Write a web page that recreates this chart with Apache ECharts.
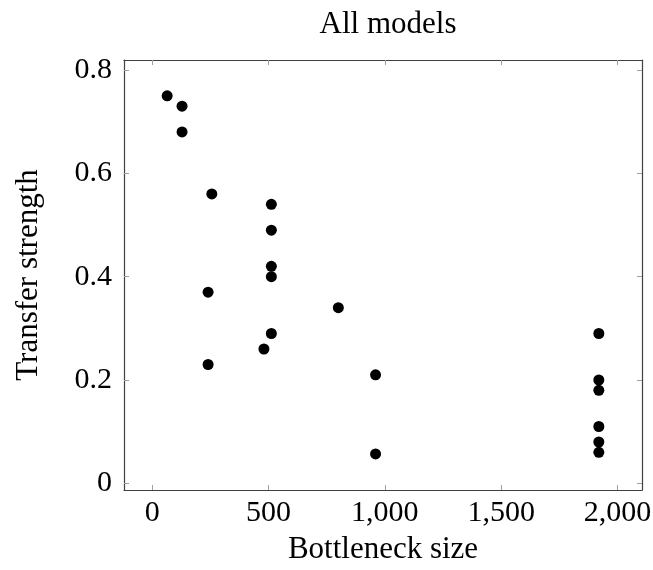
<!DOCTYPE html>
<html>
<head>
<meta charset="utf-8">
<script src="https://cdn.jsdelivr.net/npm/echarts@6/dist/echarts.min.js"></script>
<style>
html,body{margin:0;padding:0;background:#fff;}
#chart{width:653px;height:570px;}
</style>
</head>
<body>
<div id="chart"></div>
<script>
// Data
var bottleneckSize = [64, 128, 128, 256, 512, 512, 240, 512, 512, 800, 512, 480, 240, 960, 960, 1920, 1920, 1920, 1920, 1920, 1920];
var transferStrength = [0.75, 0.73, 0.68, 0.56, 0.54, 0.49, 0.37, 0.42, 0.40, 0.34, 0.29, 0.26, 0.23, 0.21, 0.057, 0.29, 0.20, 0.18, 0.11, 0.08, 0.06];
var xTicks = [0, 500, 1000, 1500, 2000];
var yTicks = [0, 0.2, 0.4, 0.6, 0.8];
var titleText = 'All models';
var xName = 'Bottleneck size';
var yName = 'Transfer strength';

var points = bottleneckSize.map(function (x, i) { return [x, transferStrength[i]]; });

var FONT = '"Liberation Serif", "DejaVu Serif", serif';
var xMin = -121.6, xMax = 2105.6, yMin = -0.0129, yMax = 0.8193;

function fmtX(v) { return v.toLocaleString('en-US'); }
function fmtY(v) { return v === 0 ? '0' : v.toFixed(1); }

function frameLine() { return { show: true, onZero: false, lineStyle: { color: '#404040', width: 1.2 } }; }
function tickStyle(vals) { return { show: true, inside: true, length: 5, customValues: vals, lineStyle: { color: '#a0a0a0', width: 1 } }; }

var chart = echarts.init(document.getElementById('chart'), null, { renderer: 'canvas' });
chart.setOption({
  animation: false,
  backgroundColor: '#fff',
  title: {
    text: titleText, left: 383, top: 4, textAlign: 'center',
    textStyle: { fontFamily: FONT, fontSize: 31, fontWeight: 'normal', color: '#000' }
  },
  grid: { left: 124, top: 60, width: 518, height: 430, containLabel: false, outerBoundsMode: 'none' },
  xAxis: [{
    type: 'value', position: 'bottom', min: xMin, max: xMax,
    name: xName, nameLocation: 'middle', nameGap: 44,
    nameTextStyle: { fontFamily: FONT, fontSize: 31, color: '#000' },
    axisLine: frameLine(),
    axisTick: tickStyle(xTicks),
    axisLabel: { customValues: xTicks, formatter: fmtX, margin: 8, fontFamily: FONT, fontSize: 30, color: '#000' },
    splitLine: { show: false }
  }, {
    type: 'value', position: 'top', min: xMin, max: xMax,
    axisLine: frameLine(),
    axisTick: tickStyle(xTicks),
    axisLabel: { show: false },
    splitLine: { show: false }
  }],
  yAxis: [{
    type: 'value', position: 'left', min: yMin, max: yMax,
    name: yName, nameLocation: 'middle', nameGap: 80, nameRotate: 90,
    nameTextStyle: { fontFamily: FONT, fontSize: 31, color: '#000' },
    axisLine: frameLine(),
    axisTick: tickStyle(yTicks),
    axisLabel: { customValues: yTicks, formatter: fmtY, margin: 12, fontFamily: FONT, fontSize: 30, color: '#000' },
    splitLine: { show: false }
  }, {
    type: 'value', position: 'right', min: yMin, max: yMax,
    axisLine: frameLine(),
    axisTick: tickStyle(yTicks),
    axisLabel: { show: false },
    splitLine: { show: false }
  }],
  series: [{
    type: 'scatter',
    xAxisIndex: 0, yAxisIndex: 0,
    data: points,
    symbol: 'circle',
    symbolSize: 11,
    itemStyle: { color: '#000', opacity: 1 }
  }]
});
</script>
</body>
</html>
